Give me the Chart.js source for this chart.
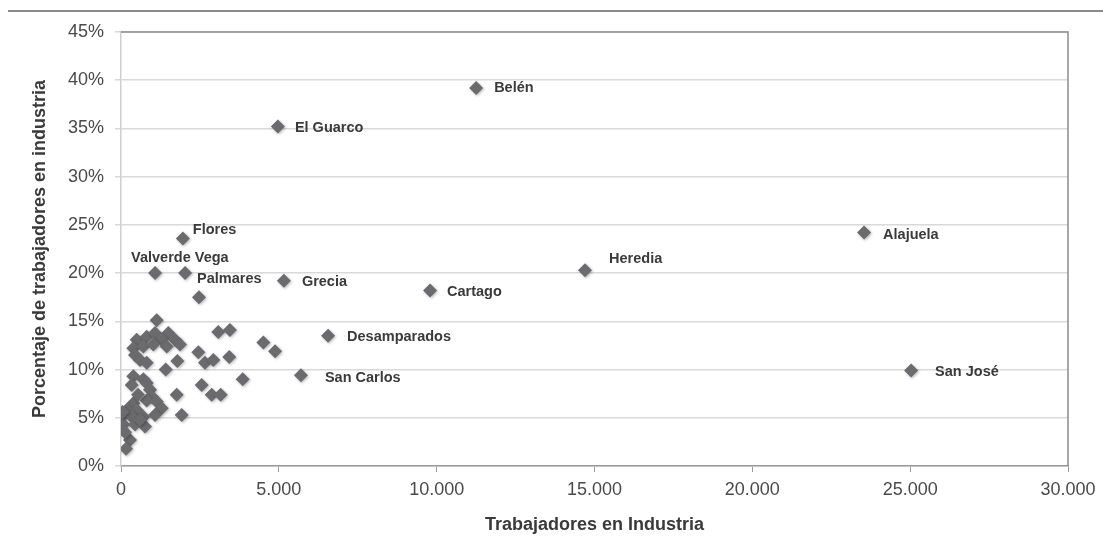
<!DOCTYPE html>
<html>
<head>
<meta charset="utf-8">
<script src="https://cdn.jsdelivr.net/npm/chart.js@4.4.1/dist/chart.umd.min.js"></script>
<style>
  html, body { margin: 0; padding: 0; background: #fff; }
  #wrap { position: relative; width: 1103px; height: 544px; }
</style>
</head>
<body>
<div id="wrap"><canvas id="industryChart"></canvas></div>
<script>
// cantones con etiqueta
const namedCantons = ['Belén', 'El Guarco', 'Alajuela', 'Heredia', 'Cartago', 'Grecia', 'Desamparados', 'San Carlos', 'San José', 'Flores', 'Valverde Vega', 'Palmares'];
const namedWorkers = [11250, 4970, 23540, 14700, 9790, 5160, 6560, 5700, 25030, 1960, 1080, 2030];
const namedPct = [39.2, 35.2, 24.2, 20.3, 18.2, 19.2, 13.5, 9.4, 9.9, 23.6, 20.0, 20.0];

// resto de cantones (sin etiqueta)
const otherWorkers = [1131, 497, 814, 1077, 1499, 1289, 1711, 1869, 390, 707, 1024, 1447, 444, 602, 814, 1785, 1415, 2450, 2660, 2925, 3430, 3080, 3450, 3855, 390, 707, 338, 814, 919, 971, 814, 1131, 1289, 390, 180, 497, 30, 338, 707, 74, 444, 760, 285, 158, 1764, 1922, 2556, 2873, 3158, 50, 602, 127, 1077, 540, 2470, 4510, 4880];
const otherPct = [15.1, 13.1, 13.4, 13.8, 13.8, 13.1, 13.1, 12.6, 12.2, 12.4, 12.6, 12.4, 11.5, 11.0, 10.7, 10.9, 10.0, 11.8, 10.7, 11.0, 11.3, 13.9, 14.1, 9.0, 9.3, 9.0, 8.4, 8.6, 7.9, 7.2, 6.8, 6.7, 6.0, 6.5, 5.8, 5.8, 5.1, 5.1, 5.1, 4.3, 4.3, 4.1, 2.7, 1.8, 7.4, 5.3, 8.4, 7.4, 7.4, 5.6, 4.8, 3.5, 5.3, 7.4, 17.5, 12.8, 11.9];

const xMax = 30000;
const xStep = 5000;
const yMax = 45;
const yStep = 5;

// desplazamiento de cada etiqueta respecto a su punto (px)
const labelOffsets = {
    'Belén': [18, 0], 'El Guarco': [17, 1], 'Alajuela': [19, 2], 'Heredia': [24, -11],
    'Cartago': [17, 2], 'Grecia': [18, 1], 'Desamparados': [19, 1], 'San Carlos': [24, 3],
    'San José': [24, 1], 'Flores': [10, -8], 'Valverde Vega': [-24, -15], 'Palmares': [12, 6]
};

const FONT = "'Liberation Sans', Arial, Helvetica, sans-serif";
const MARK = '#6b6b6e';

const toXY = (xs, ys) => xs.map((x, i) => ({ x: x, y: ys[i] }));
const thousands = v => String(v).replace(/\B(?=(\d{3})+(?!\d))/g, '.');

const frame = {
    id: 'frame',
    beforeDraw(chart) {
        const ctx = chart.ctx;
        ctx.save();
        ctx.strokeStyle = '#8a8a8a';
        ctx.lineWidth = 2;
        ctx.beginPath();
        ctx.moveTo(8, 11);
        ctx.lineTo(chart.width, 11);
        ctx.stroke();
        ctx.restore();
    },
    beforeDatasetsDraw(chart) {
        const ctx = chart.ctx;
        const a = chart.chartArea;
        ctx.save();
        ctx.strokeStyle = '#8c8c8c';
        ctx.lineWidth = 1.5;
        ctx.beginPath();
        ctx.moveTo(a.left, a.top);
        ctx.lineTo(a.right, a.top);
        ctx.lineTo(a.right, a.bottom);
        ctx.stroke();
        ctx.restore();
        // sombra ligera de los rombos
        ctx.save();
        ctx.shadowColor = 'rgba(0,0,0,0.3)';
        ctx.shadowBlur = 3;
        ctx.shadowOffsetX = 1;
        ctx.shadowOffsetY = 1;
    },
    afterDatasetsDraw(chart) {
        const ctx = chart.ctx;
        ctx.restore();
        const meta = chart.getDatasetMeta(0);
        ctx.save();
        ctx.font = 'bold 14.5px ' + FONT;
        ctx.fillStyle = '#3a3a3a';
        ctx.textBaseline = 'middle';
        ctx.textAlign = 'left';
        meta.data.forEach((pt, i) => {
            const name = namedCantons[i];
            const off = labelOffsets[name] || [16, 0];
            ctx.fillText(name, pt.x + off[0], pt.y + off[1]);
        });
        ctx.restore();
    }
};

new Chart(document.getElementById('industryChart'), {
    type: 'scatter',
    data: {
        datasets: [
            {
                label: 'Cantones',
                data: toXY(namedWorkers, namedPct),
                pointStyle: 'rectRot',
                pointRadius: 7,
                pointHoverRadius: 7,
                backgroundColor: MARK,
                borderWidth: 0
            },
            {
                label: 'Otros',
                data: toXY(otherWorkers, otherPct),
                pointStyle: 'rectRot',
                pointRadius: 7,
                pointHoverRadius: 7,
                backgroundColor: MARK,
                borderWidth: 0
            }
        ]
    },
    options: {
        responsive: true,
        maintainAspectRatio: false,
        animation: false,
        layout: { padding: { top: 32, right: 35, left: 0, bottom: 0 } },
        plugins: {
            legend: { display: false },
            tooltip: { enabled: false }
        },
        scales: {
            x: {
                type: 'linear',
                min: 0,
                max: xMax,
                afterFit: s => { s.height = 78; },
                border: { display: true, color: '#9a9a9a', width: 1.5 },
                grid: { drawOnChartArea: false, drawTicks: true, tickLength: 6, color: '#9a9a9a' },
                ticks: {
                    stepSize: xStep,
                    padding: 7,
                    color: '#4a4a4a',
                    font: { family: FONT, size: 18 },
                    callback: v => thousands(v)
                },
                title: {
                    display: true,
                    text: 'Trabajadores en Industria',
                    color: '#3a3a3a',
                    font: { family: FONT, size: 18, weight: 'bold' },
                    padding: { top: 0, bottom: 8 }
                }
            },
            y: {
                min: 0,
                max: yMax,
                afterFit: s => { s.width = 121; },
                border: { display: true, color: '#cfcfcf', width: 1.5 },
                grid: { color: '#d9d9d9', lineWidth: 1.5, drawTicks: true, tickLength: 6 },
                ticks: {
                    stepSize: yStep,
                    padding: 11,
                    color: '#4a4a4a',
                    font: { family: FONT, size: 18 },
                    callback: v => v + '%'
                },
                title: {
                    display: true,
                    text: 'Porcentaje de trabajadores en industria',
                    color: '#3a3a3a',
                    font: { family: FONT, size: 18, weight: 'bold' },
                    padding: { top: 29, bottom: 0 }
                }
            }
        }
    },
    plugins: [frame]
});
</script>
</body>
</html>
